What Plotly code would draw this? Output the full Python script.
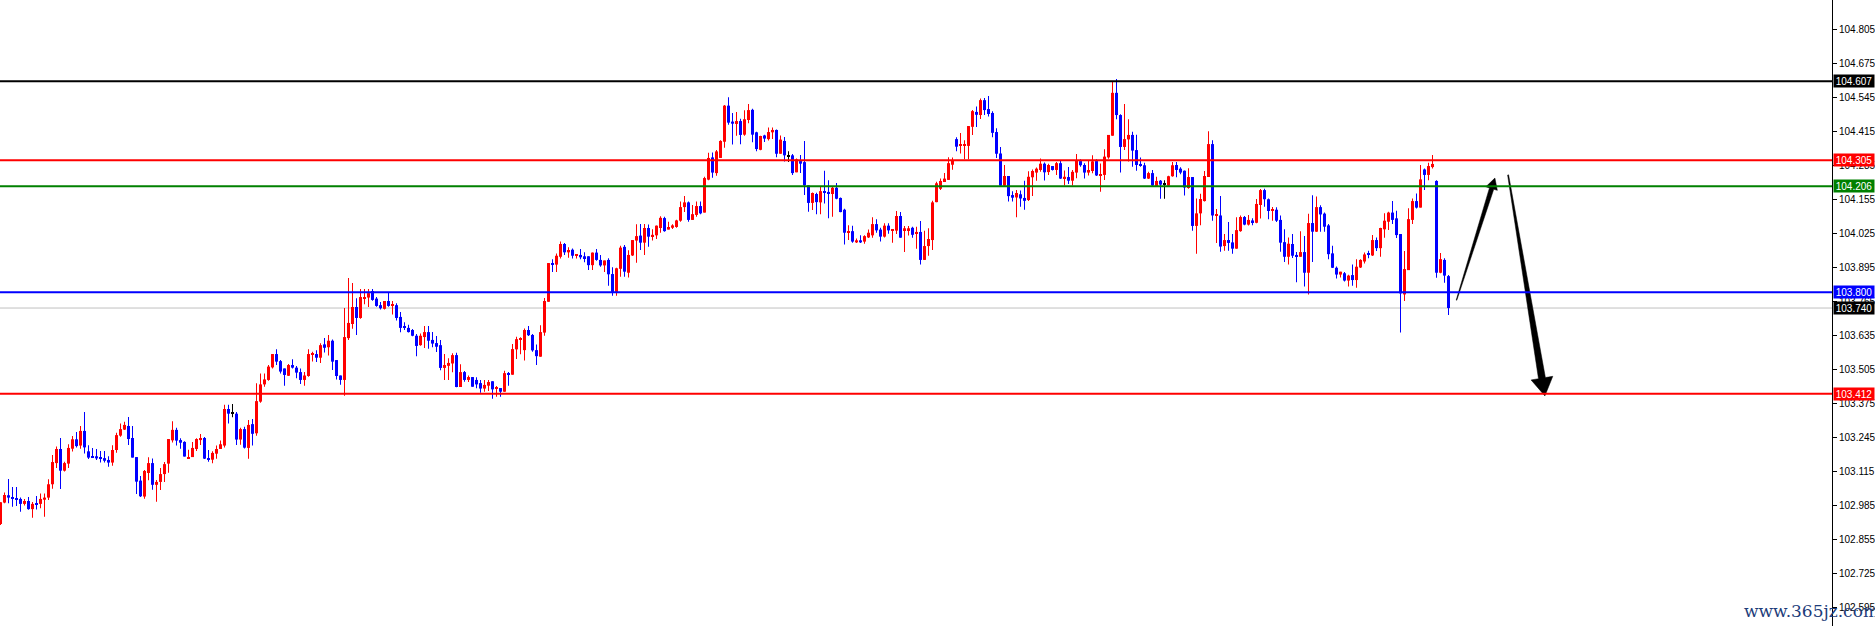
import plotly.graph_objects as go

# ---------------- data ----------------
opens = [102.914,102.996,103.024,103.017,103.013,103.010,102.991,103.002,102.971,102.994,
102.991,103.007,103.015,103.066,103.147,103.201,103.118,103.145,103.202,103.238,
103.214,103.270,103.192,103.174,103.173,103.170,103.166,103.159,103.149,103.197,
103.252,103.275,103.289,103.243,103.170,103.080,103.019,103.109,103.147,103.064,
103.075,103.105,103.145,103.234,103.274,103.235,103.228,103.166,103.170,103.201,
103.235,103.243,103.166,103.160,103.183,103.201,103.214,103.354,103.336,103.336,
103.237,103.277,103.205,103.296,103.261,103.382,103.448,103.465,103.513,103.564,
103.537,103.509,103.481,103.522,103.512,103.495,103.465,103.480,103.561,103.564,
103.550,103.601,103.590,103.615,103.541,103.482,103.465,103.625,103.679,103.744,
103.702,103.776,103.780,103.805,103.776,103.751,103.737,103.767,103.749,103.751,
103.706,103.670,103.664,103.656,103.634,103.598,103.629,103.648,103.618,103.606,
103.598,103.511,103.519,103.528,103.560,103.438,103.495,103.465,103.476,103.465,
103.453,103.432,103.443,103.460,103.432,103.434,103.420,103.491,103.485,103.582,
103.618,103.579,103.656,103.637,103.579,103.554,103.646,103.764,103.912,103.906,
103.936,103.985,103.953,103.963,103.940,103.943,103.938,103.938,103.904,103.952,
103.924,103.903,103.924,103.870,103.802,103.890,103.974,103.875,103.941,103.998,
104.017,103.990,104.046,104.013,104.018,104.046,104.084,104.040,104.047,104.050,
104.074,104.126,104.144,104.077,104.096,104.130,104.105,104.231,104.316,104.256,
104.314,104.376,104.514,104.453,104.444,104.455,104.403,104.459,104.498,104.412,
104.345,104.400,104.386,104.412,104.421,104.330,104.379,104.320,104.324,104.259,
104.302,104.298,104.209,104.142,104.176,104.144,104.187,104.184,104.176,104.200,
104.161,104.116,104.029,104.034,103.991,103.999,103.994,104.010,104.018,104.061,
104.040,104.013,104.055,104.037,104.036,104.092,104.038,104.038,104.047,104.024,
104.031,103.924,103.977,104.000,104.145,104.196,104.222,104.230,104.288,104.386,
104.360,104.360,104.360,104.433,104.490,104.478,104.535,104.501,104.486,104.413,
104.331,104.208,104.245,104.172,104.163,104.175,104.161,104.153,104.240,104.258,
104.268,104.292,104.260,104.283,104.268,104.294,104.235,104.241,104.227,104.258,
104.302,104.287,104.258,104.264,104.302,104.246,104.249,104.316,104.399,104.563,
104.478,104.356,104.385,104.402,104.344,104.291,104.286,104.235,104.256,104.207,
104.227,104.212,104.208,104.244,104.287,104.273,104.265,104.199,104.241,104.054,
104.102,104.149,104.241,104.367,104.094,104.094,103.977,104.000,103.991,103.967,
104.034,104.088,104.059,104.075,104.066,104.134,104.191,104.156,104.113,104.116,
104.077,103.992,103.936,103.985,103.943,103.936,103.954,103.875,104.065,104.032,
104.126,104.101,104.056,103.949,103.894,103.868,103.873,103.845,103.866,103.847,
103.895,103.918,103.946,103.941,104.000,103.969,104.041,104.070,104.105,104.083,
104.023,103.792,103.885,104.077,104.149,104.124,104.270,104.249,104.279,104.226,
103.875,103.924,103.862]

highs = [102.997,103.035,103.086,103.056,103.056,103.015,103.010,103.017,102.998,103.021,
103.031,103.031,103.085,103.178,103.210,103.243,103.152,103.219,103.251,103.266,
103.289,103.342,103.215,103.205,103.201,103.193,103.193,103.173,103.215,103.263,
103.298,103.305,103.323,103.289,103.170,103.098,103.121,103.169,103.165,103.082,
103.128,103.151,103.239,103.307,103.282,103.242,103.231,103.198,103.228,103.242,
103.258,103.247,103.197,103.192,103.214,103.233,103.370,103.370,103.373,103.342,
103.282,103.286,103.312,103.316,103.452,103.490,103.490,103.522,103.564,103.582,
103.541,103.509,103.526,103.544,103.518,103.509,103.495,103.582,103.573,103.579,
103.605,103.625,103.637,103.620,103.541,103.482,103.740,103.855,103.836,103.777,
103.813,103.813,103.813,103.813,103.782,103.763,103.767,103.801,103.767,103.758,
103.725,103.686,103.676,103.660,103.641,103.643,103.671,103.671,103.648,103.633,
103.618,103.564,103.548,103.567,103.569,103.525,103.499,103.482,103.476,103.475,
103.465,103.465,103.465,103.460,103.442,103.434,103.500,103.495,103.602,103.630,
103.628,103.662,103.671,103.641,103.601,103.674,103.778,103.912,103.927,103.949,
103.994,103.989,103.972,103.968,103.945,103.966,103.953,103.938,103.952,103.966,
103.943,103.922,103.930,103.896,103.894,103.978,103.981,103.961,104.000,104.060,
104.061,104.061,104.059,104.041,104.056,104.091,104.089,104.070,104.060,104.078,
104.147,104.168,104.147,104.134,104.147,104.147,104.242,104.334,104.335,104.344,
104.382,104.516,104.546,104.486,104.490,104.464,104.496,104.520,104.502,104.414,
104.399,104.403,104.430,104.430,104.423,104.400,104.394,104.340,104.329,104.312,
104.325,104.379,104.209,104.182,104.181,104.204,104.265,104.229,104.204,104.218,
104.163,104.120,104.057,104.055,104.006,104.018,104.018,104.040,104.087,104.080,
104.047,104.064,104.064,104.042,104.111,104.107,104.054,104.054,104.051,104.051,
104.073,104.036,104.045,104.150,104.223,104.235,104.256,104.317,104.316,104.393,
104.409,104.382,104.436,104.497,104.511,104.541,104.543,104.551,104.493,104.428,
104.356,104.287,104.245,104.187,104.191,104.189,104.227,104.263,104.270,104.277,
104.312,104.297,104.292,104.283,104.298,104.303,104.266,104.279,104.268,104.329,
104.309,104.294,104.306,104.324,104.309,104.293,104.347,104.402,104.607,104.616,
104.481,104.520,104.462,104.414,104.403,104.316,104.296,104.261,104.268,104.242,
104.230,104.229,104.246,104.298,104.298,104.278,104.266,104.275,104.241,104.159,
104.177,104.264,104.416,104.382,104.119,104.168,104.023,104.069,104.023,104.087,
104.094,104.092,104.096,104.083,104.157,104.195,104.196,104.159,104.126,104.125,
104.094,104.041,104.010,104.023,103.954,104.034,104.015,104.101,104.171,104.167,
104.133,104.105,104.061,103.978,103.899,103.879,103.878,103.867,103.906,103.927,
103.927,103.952,103.959,104.019,104.010,104.047,104.102,104.108,104.149,104.112,
104.023,103.958,104.122,104.159,104.178,104.287,104.274,104.296,104.325,104.229,
103.950,103.930,103.866]

lows = [102.910,102.993,102.993,102.980,102.983,102.961,102.985,102.969,102.938,102.970,
102.974,102.942,103.006,103.049,103.128,103.048,103.115,103.128,103.191,103.207,
103.202,103.184,103.163,103.168,103.159,103.149,103.149,103.133,103.137,103.187,
103.248,103.274,103.216,103.168,103.029,103.017,103.011,103.081,103.045,102.999,
103.044,103.075,103.110,103.226,103.214,103.202,103.172,103.164,103.170,103.193,
103.216,103.163,103.152,103.146,103.164,103.201,103.207,103.298,103.322,103.216,
103.217,103.203,103.164,103.214,103.252,103.378,103.439,103.462,103.509,103.522,
103.490,103.443,103.480,103.509,103.471,103.449,103.443,103.477,103.536,103.534,
103.530,103.570,103.558,103.503,103.467,103.447,103.405,103.618,103.661,103.637,
103.699,103.754,103.744,103.768,103.745,103.734,103.734,103.745,103.715,103.692,
103.647,103.656,103.646,103.632,103.556,103.596,103.587,103.584,103.590,103.572,
103.502,103.465,103.465,103.494,103.437,103.438,103.458,103.457,103.439,103.433,
103.416,103.420,103.423,103.393,103.401,103.401,103.420,103.443,103.485,103.545,
103.563,103.539,103.633,103.573,103.522,103.554,103.634,103.764,103.878,103.878,
103.929,103.943,103.932,103.929,103.929,103.927,103.915,103.885,103.885,103.921,
103.898,103.878,103.825,103.787,103.787,103.860,103.860,103.857,103.939,103.913,
103.962,103.943,103.974,103.998,104.004,104.028,104.032,104.040,104.042,104.047,
104.070,104.107,104.070,104.077,104.089,104.099,104.105,104.229,104.238,104.246,
104.314,104.353,104.441,104.365,104.399,104.366,104.399,104.447,104.374,104.340,
104.343,104.375,104.381,104.386,104.317,104.330,104.300,104.298,104.249,104.259,
104.256,104.172,104.108,104.115,104.099,104.099,104.140,104.083,104.089,104.156,
104.106,103.983,104.000,103.990,103.989,103.989,103.986,104.008,104.009,104.028,
103.994,104.010,104.024,103.990,104.023,104.009,103.954,104.017,104.009,103.967,
103.906,103.924,103.940,103.962,104.145,104.191,104.222,104.230,104.269,104.340,
104.331,104.309,104.309,104.402,104.432,104.463,104.478,104.472,104.393,104.314,
104.208,104.204,104.147,104.147,104.087,104.127,104.116,104.149,104.168,104.227,
104.261,104.228,104.249,104.266,104.249,104.233,104.209,104.214,104.209,104.236,
104.280,104.235,104.247,104.255,104.245,104.185,104.230,104.311,104.399,104.462,
104.258,104.344,104.300,104.280,104.265,104.280,104.233,104.233,104.207,104.207,
104.158,104.158,104.203,104.242,104.240,104.252,104.170,104.196,104.036,103.948,
104.057,104.147,104.241,104.074,103.989,103.955,103.959,103.959,103.948,103.967,
104.032,104.057,104.056,104.057,104.064,104.082,104.127,104.080,104.074,104.069,
103.955,103.916,103.906,103.931,103.839,103.936,103.822,103.792,103.916,104.031,
104.032,104.032,103.927,103.893,103.853,103.857,103.841,103.822,103.825,103.818,
103.893,103.910,103.930,103.939,103.958,103.936,104.009,104.038,104.061,104.008,
103.646,103.767,103.885,104.061,104.121,104.124,104.191,104.229,104.274,103.856,
103.873,103.837,103.713]

closes = [102.997,103.025,103.015,103.010,103.008,102.991,103.002,102.971,102.991,102.988,
103.010,103.015,103.066,103.151,103.201,103.118,103.147,103.205,103.238,103.212,
103.270,103.207,103.168,103.169,103.165,103.163,103.156,103.149,103.197,103.254,
103.277,103.293,103.239,103.168,103.076,103.020,103.117,103.147,103.064,103.075,
103.105,103.143,103.239,103.274,103.233,103.225,103.172,103.170,103.205,103.239,
103.243,103.164,103.159,103.186,103.201,103.219,103.354,103.336,103.336,103.237,
103.277,103.206,103.293,103.259,103.384,103.448,103.467,103.516,103.564,103.535,
103.497,103.484,103.522,103.512,103.493,103.465,103.482,103.564,103.564,103.550,
103.598,103.588,103.615,103.535,103.480,103.465,103.629,103.683,103.744,103.702,
103.782,103.782,103.797,103.771,103.748,103.739,103.767,103.748,103.751,103.702,
103.664,103.664,103.648,103.634,103.595,103.634,103.648,103.615,103.604,103.592,
103.511,103.522,103.530,103.560,103.438,103.495,103.465,103.476,103.439,103.448,
103.432,103.446,103.457,103.429,103.434,103.420,103.491,103.486,103.583,103.621,
103.621,103.656,103.636,103.578,103.556,103.648,103.767,103.912,103.906,103.940,
103.985,103.953,103.962,103.940,103.945,103.934,103.931,103.904,103.952,103.924,
103.903,103.922,103.869,103.802,103.892,103.971,103.879,103.943,104.000,104.015,
103.990,104.046,104.013,104.020,104.055,104.085,104.034,104.050,104.056,104.075,
104.126,104.144,104.077,104.099,104.130,104.102,104.237,104.314,104.258,104.339,
104.379,104.514,104.449,104.445,104.455,104.402,104.462,104.497,104.403,104.348,
104.398,104.388,104.413,104.421,104.330,104.384,104.324,104.320,104.256,104.309,
104.292,104.209,104.142,104.180,104.145,104.187,104.180,104.176,104.200,104.158,
104.107,104.028,104.033,103.994,103.999,103.991,104.015,104.028,104.061,104.037,
104.013,104.055,104.037,104.040,104.092,104.009,104.045,104.045,104.020,104.031,
103.924,103.977,104.004,104.144,104.217,104.226,104.235,104.294,104.303,104.357,
104.362,104.362,104.436,104.493,104.479,104.535,104.497,104.482,104.410,104.330,
104.208,104.245,104.168,104.162,104.180,104.159,104.150,104.242,104.264,104.273,
104.292,104.259,104.287,104.268,104.294,104.235,104.242,104.227,104.261,104.306,
104.286,104.258,104.268,104.301,104.247,104.252,104.319,104.402,104.563,104.478,
104.356,104.386,104.402,104.342,104.287,104.286,104.235,104.256,104.209,104.226,
104.212,104.212,104.244,104.286,104.268,104.258,104.201,104.241,104.054,104.102,
104.157,104.245,104.367,104.094,104.099,103.975,104.000,103.989,103.967,104.038,
104.088,104.059,104.077,104.068,104.138,104.191,104.156,104.111,104.116,104.074,
103.990,103.936,103.986,103.940,103.936,103.954,103.875,104.065,104.032,104.126,
104.098,104.051,103.946,103.894,103.868,103.879,103.845,103.864,103.847,103.898,
103.924,103.945,103.944,104.000,103.969,104.046,104.074,104.105,104.077,104.019,
103.796,103.889,104.080,104.149,104.124,104.232,104.249,104.283,104.291,103.875,
103.927,103.864,103.740]

# horizontal level lines drawn on the chart
level_prices = [104.607, 104.305, 104.206, 103.800, 103.412]
level_colors = ["#000000", "#ff0000", "#008000", "#0000ff", "#ff0000"]
current_price = 103.740

tick_labels = ["102.595", "102.725", "102.855", "102.985", "103.115", "103.245",
               "103.375", "103.505", "103.635", "103.765", "103.895", "104.025",
               "104.155", "104.285", "104.415", "104.545", "104.675", "104.805"]

# hand-drawn projection arrows (tail -> tip) in (bar index, price)
arrow_up = ((364.0, 103.770), (373.6, 104.237))
arrow_down = ((376.9, 104.249), (386.1, 103.404))

# ---------------- figure geometry ----------------
W, H = 1875, 626
M_R = 43
PLOT_W = W - M_R
PLOT_H = H
X_RANGE = [-0.125, 457.875]
Y_RANGE = [102.524, 104.918]

n = len(opens)
xs = list(range(n))

colors = []
for o, c in zip(opens, closes):
    if c > o:
        colors.append("#ff0000")
    elif c < o:
        colors.append("#0000ff")
    else:
        colors.append("#000000")

min_body = (Y_RANGE[1] - Y_RANGE[0]) / PLOT_H  # about one pixel
body_base = [min(o, c) for o, c in zip(opens, closes)]
body_len = [max(abs(c - o), min_body) for o, c in zip(opens, closes)]
wick_len = [h - l for h, l in zip(highs, lows)]

fig = go.Figure()
fig.add_trace(go.Bar(x=xs, y=wick_len, base=lows, width=0.25,
                     marker=dict(color=colors, line=dict(width=0)),
                     hoverinfo="skip", showlegend=False))
fig.add_trace(go.Bar(x=xs, y=body_len, base=body_base, width=0.75,
                     marker=dict(color=colors, line=dict(width=0)),
                     hoverinfo="skip", showlegend=False))

# tapered arrows as filled polygons
sx = PLOT_W / (X_RANGE[1] - X_RANGE[0])
sy = PLOT_H / (Y_RANGE[1] - Y_RANGE[0])


def tapered_arrow(tail, tip, w_tail, w_shaft, head_w, head_len):
    X0, Y0 = tail[0] * sx, tail[1] * sy
    X1, Y1 = tip[0] * sx, tip[1] * sy
    dx, dy = X1 - X0, Y1 - Y0
    L = (dx * dx + dy * dy) ** 0.5
    ux, uy = dx / L, dy / L
    nx, ny = -uy, ux
    bx, by = X1 - ux * head_len, Y1 - uy * head_len
    pts = [
        (X0 + nx * w_tail / 2, Y0 + ny * w_tail / 2),
        (bx + nx * w_shaft / 2, by + ny * w_shaft / 2),
        (bx + nx * head_w / 2, by + ny * head_w / 2),
        (X1, Y1),
        (bx - nx * head_w / 2, by - ny * head_w / 2),
        (bx - nx * w_shaft / 2, by - ny * w_shaft / 2),
        (X0 - nx * w_tail / 2, Y0 - ny * w_tail / 2),
    ]
    pts.append(pts[0])
    return [p[0] / sx for p in pts], [p[1] / sy for p in pts]


for arr, dims in ((arrow_up, (0.6, 4.5, 12, 11)), (arrow_down, (1.0, 7, 22, 18))):
    ax_, ay_ = tapered_arrow(arr[0], arr[1], *dims)
    fig.add_trace(go.Scatter(x=ax_, y=ay_, mode="lines", fill="toself",
                             fillcolor="#000000", line=dict(color="#000000", width=0.5),
                             hoverinfo="skip", showlegend=False))

shapes = []
for p, col in zip(level_prices, level_colors):
    shapes.append(dict(type="line", xref="paper", x0=0, x1=1, yref="y", y0=p, y1=p,
                       line=dict(color=col, width=2), layer="above"))
shapes.append(dict(type="line", xref="paper", x0=0, x1=1, yref="y",
                   y0=current_price, y1=current_price,
                   line=dict(color="#c0c0c0", width=1), layer="below"))

annotations = []
label_prices = level_prices[:4] + [current_price] + level_prices[4:]
label_colors = level_colors[:4] + ["#000000"] + level_colors[4:]
for p, col in zip(label_prices, label_colors):
    annotations.append(dict(xref="paper", x=1, xanchor="left", xshift=1,
                            yref="y", y=p, yanchor="middle",
                            text=f"{p:.3f}", showarrow=False,
                            font=dict(family="Liberation Sans", size=10, color="#ffffff"),
                            bgcolor=col, width=38, height=10, borderpad=1, align="center"))
annotations.append(dict(xref="paper", x=1811 / PLOT_W, xanchor="center",
                        yref="paper", y=1 - 611 / PLOT_H, yanchor="middle",
                        text="www.365jz.com", showarrow=False,
                        font=dict(family="DejaVu Serif", size=17, color="#1d3c7a")))

fig.update_layout(
    width=W, height=H,
    margin=dict(l=0, r=M_R, t=0, b=0, pad=0, autoexpand=False),
    paper_bgcolor="#ffffff", plot_bgcolor="#ffffff",
    barmode="overlay",
    shapes=shapes, annotations=annotations,
    xaxis=dict(range=X_RANGE, visible=False, fixedrange=True, automargin=False),
    yaxis=dict(range=Y_RANGE, side="right", showgrid=False, zeroline=False,
               automargin=False,
               showline=True, linecolor="#000000", linewidth=1,
               ticks="outside", ticklen=4, tickcolor="#000000", tickwidth=1,
               tickvals=[float(t) for t in tick_labels], ticktext=tick_labels,
               tickfont=dict(family="Liberation Sans", size=10, color="#000000"),
               fixedrange=True),
)

fig.write_html("out.html", config={"displayModeBar": False},
               post_script="document.body.style.margin='0';document.body.style.overflow='hidden';")
